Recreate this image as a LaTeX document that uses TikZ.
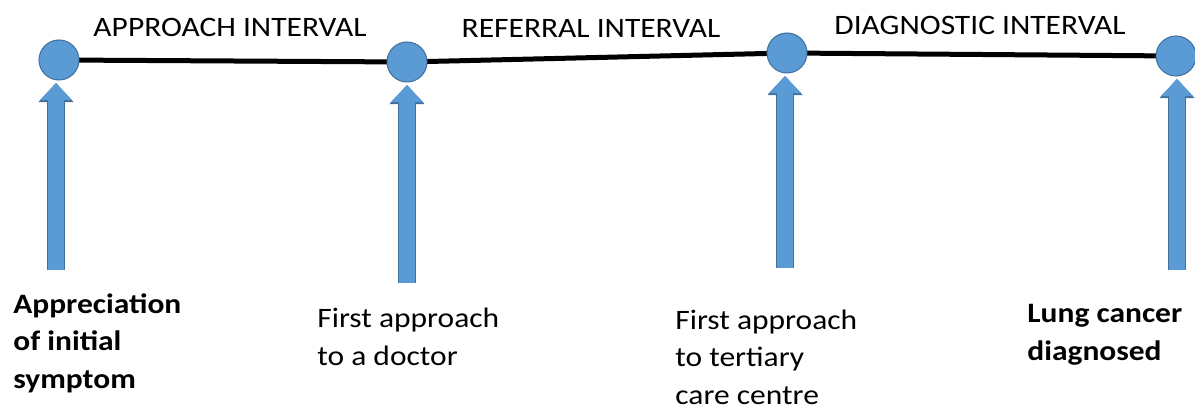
\documentclass[tikz,border=0pt]{standalone}
\usepackage{fontspec}
\setmainfont{Carlito}[FakeStretch=1.12]
\usetikzlibrary{arrows.meta}
\definecolor{dotblue}{RGB}{91,155,213}
\definecolor{dotedge}{RGB}{65,113,156}
\tikzset{
  dot/.style={circle,fill=dotblue,draw=dotedge,line width=0.6pt,minimum size=0.8cm,inner sep=0pt},
  uparrow/.style={draw=dotblue,line width=0.32cm,shorten >=0.05cm,
    -{Triangle[width=0.64cm,length=0.34cm,line width=0pt]},
    preaction={draw=dotedge,line width=0.36cm,-{Triangle[width=0.7cm,length=0.38cm,line width=0pt]}}},
  interval/.style={font=\fontsize{16}{19}\selectfont,inner sep=0pt},
  event/.style={font=\fontsize{16}{21.3}\selectfont,align=left,anchor=base west,inner sep=0pt},
  boldevent/.style={event,font=\fontsize{16}{21.3}\selectfont\bfseries}
}
\begin{document}
\begin{tikzpicture}[x=0.02cm,y=-0.02cm]
\useasboundingbox (0,0) rectangle (1195,411);
\coordinate (P1) at (59,60);
\coordinate (P2) at (407,62);
\coordinate (P3) at (787,53);
\coordinate (P4) at (1176,56);

\coordinate (B1) at (56,270);
\coordinate (B2) at (407,283);
\coordinate (B3) at (785,268);
\coordinate (B4) at (1177,270);

\draw[line width=0.1cm] (P1) -- (P2) -- (P3) -- (P4);

\foreach \p in {1,2,3,4}
	\node[dot] (D\p) at (P\p) {};

\foreach \p in {1,2,3,4}
	\draw[uparrow] (B\p) -- (B\p |- D\p.south);

\node[interval] (approach) at (230,27) {APPROACH INTERVAL};
\node[interval] (referral) at (591,28) {REFERRAL INTERVAL};
\node[interval] (diagnostic) at (980,25) {DIAGNOSTIC INTERVAL};

% base anchor sits on the last line
\node[boldevent] (symptom) at (13,388) {Appreciation\\of initial\\symptom};
\node[event] (doctor) at (317,365) {First approach\\to a doctor};
\node[event] (tertiary) at (675,404) {First approach\\to tertiary\\care centre};
\node[boldevent] (diagnosed) at (1027,360) {Lung cancer\\diagnosed};
\end{tikzpicture}
\end{document}
